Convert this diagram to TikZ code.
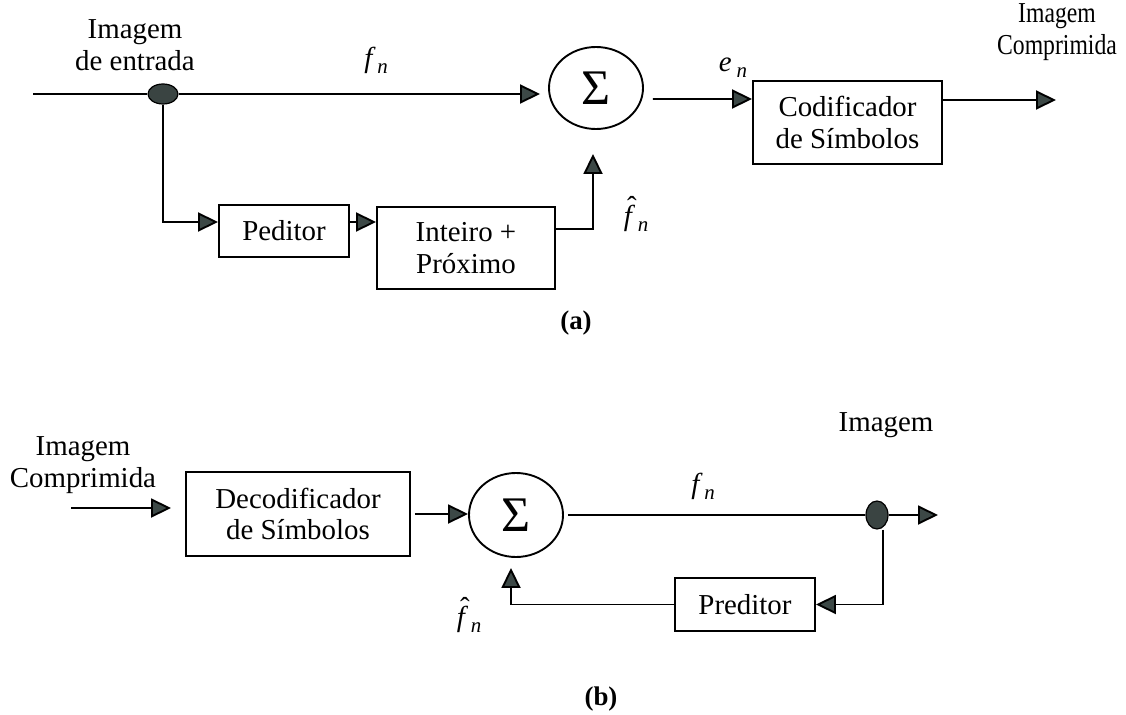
\documentclass[tikz,border=0pt]{standalone}
\usepackage{fontspec}
\setmainfont{Liberation Serif}
\usetikzlibrary{arrows.meta,shapes.geometric,calc}

\definecolor{tipfill}{HTML}{3C4846}
\definecolor{dotfill}{HTML}{3A4442}

% italic symbol with a lowered subscript, as in f n
\newcommand{\symsub}[2]{{\itshape #1}\kern5bp\raisebox{-6bp}{\fontsize{21}{21}\selectfont\itshape #2}}
% f with a circumflex above it, and its subscript
\newcommand{\fhatsym}{\makebox[0pt][l]{\hspace{0.12em}\raisebox{0.3em}{\char"02C6}}{\itshape f}}
\newcommand{\fhatn}{\fhatsym\kern6bp\raisebox{-6bp}{\fontsize{21}{21}\selectfont\itshape n}}
% summation sign drawn in the circles
\newcommand{\sumsign}{\char"03A3}
% slightly condensed word
\newcommand{\narrowword}[1]{\scalebox{0.82}[1]{#1}}

\begin{document}
\begin{tikzpicture}[x=1bp,y=-1bp,
  line width=1.9bp,
  every node/.style={font=\fontsize{29}{32}\selectfont},
  blk/.style={draw,rectangle,inner sep=0pt,align=center},
  summer/.style={draw,ellipse,inner sep=0pt,font=\fontsize{50}{50}\selectfont},
  junction/.style={draw,ellipse,fill=dotfill,inner sep=0pt,line width=1.2bp},
  txt/.style={align=center,inner sep=0pt},
  arr/.style={-{Triangle[length=20bp,width=19bp,fill=tipfill]}},
]
\useasboundingbox (0,0) rectangle (1126,715);

% ---------------- (a) encoder ----------------
\node[txt] (lblin) at (135,45) {Imagem\\de entrada};
\node[txt] (lblout) at (1057,32) {\narrowword{Imagem}\\\narrowword{Comprimida}};

\node[junction,minimum width=30bp,minimum height=20bp] (j1) at (163,94) {};
\node[summer,minimum width=94bp,minimum height=82bp] (sum1) at (596,88) {\sumsign};
\node[blk,minimum width=189bp,minimum height=83bp] (cod) at (847.5,122.5) {Codificador\\de Símbolos};
\node[blk,minimum width=130bp,minimum height=52bp] (ped) at (284,231) {Peditor};
\node[blk,minimum width=178bp,minimum height=82bp] (int) at (466,248) {Inteiro +\\Próximo};

\node[txt] (fn1) at (376,60) {\symsub{f}{n}};
\node[txt] (en1) at (733,68) {\symsub{e}{n}};
\node[txt] (fh1) at (636,214) {\fhatn};
\node[txt] (capa) at (576,323) {\fontsize{27}{27}\selectfont\bfseries (a)};

\coordinate (in1) at (33,94);
\coordinate (out1) at (1056,100);

\draw (in1) -- (j1.west);
\draw[arr,shorten >=8bp] (j1.east) -- (j1.east -| sum1.west);
\draw[arr] ([xshift=9bp,yshift=-11bp]sum1.east) -- ([yshift=23.5bp]cod.west);
\draw[arr] ([yshift=22.5bp]cod.east) -- (out1);
\draw[arr] (j1.south) |- ([yshift=9bp]ped.west);
\draw[arr] ([yshift=9bp]ped.east) -- ([yshift=9bp]ped.east -| int.west);
\draw[arr] ([yshift=19bp]int.east) -| ([xshift=-3bp,yshift=-24bp]sum1.south);

% ---------------- (b) decoder ----------------
\node[txt] (lblin2) at (83,465) {Imagem\\Comprimida};
\node[txt] (lblout2) at (886,425) {Imagem};

\node[blk,minimum width=224bp,minimum height=84bp] (dec) at (298,514) {Decodificador\\de Símbolos};
\node[summer,minimum width=94bp,minimum height=84bp] (sum2) at (516,515) {\sumsign};
\node[junction,minimum width=22bp,minimum height=28bp] (j2) at (877,515) {};
\node[blk,minimum width=140bp,minimum height=53bp] (pred) at (745,604.5) {Preditor};

\node[txt] (fn2) at (703,486) {\symsub{f}{n}};
\node[txt] (fh2) at (469,615) {\fhatn};
\node[txt] (capb) at (601,699) {\fontsize{27}{27}\selectfont\bfseries (b)};

\coordinate (in2) at (71,508);
\coordinate (out2) at (938,515);

\draw[arr,shorten >=14bp] (in2) -- (in2 -| dec.west);
\draw[arr] ([xshift=4bp]dec.east) -- (dec.east -| sum2.west);
\draw ([xshift=4bp]sum2.east) -- (j2.west);
\draw[arr] (j2.east) -- (out2);
\draw[arr] ([xshift=6bp]j2.south) |- (pred.east);
\draw[arr] (pred.west) -| ([xshift=-5bp,yshift=-10bp]sum2.south);
\end{tikzpicture}
\end{document}
